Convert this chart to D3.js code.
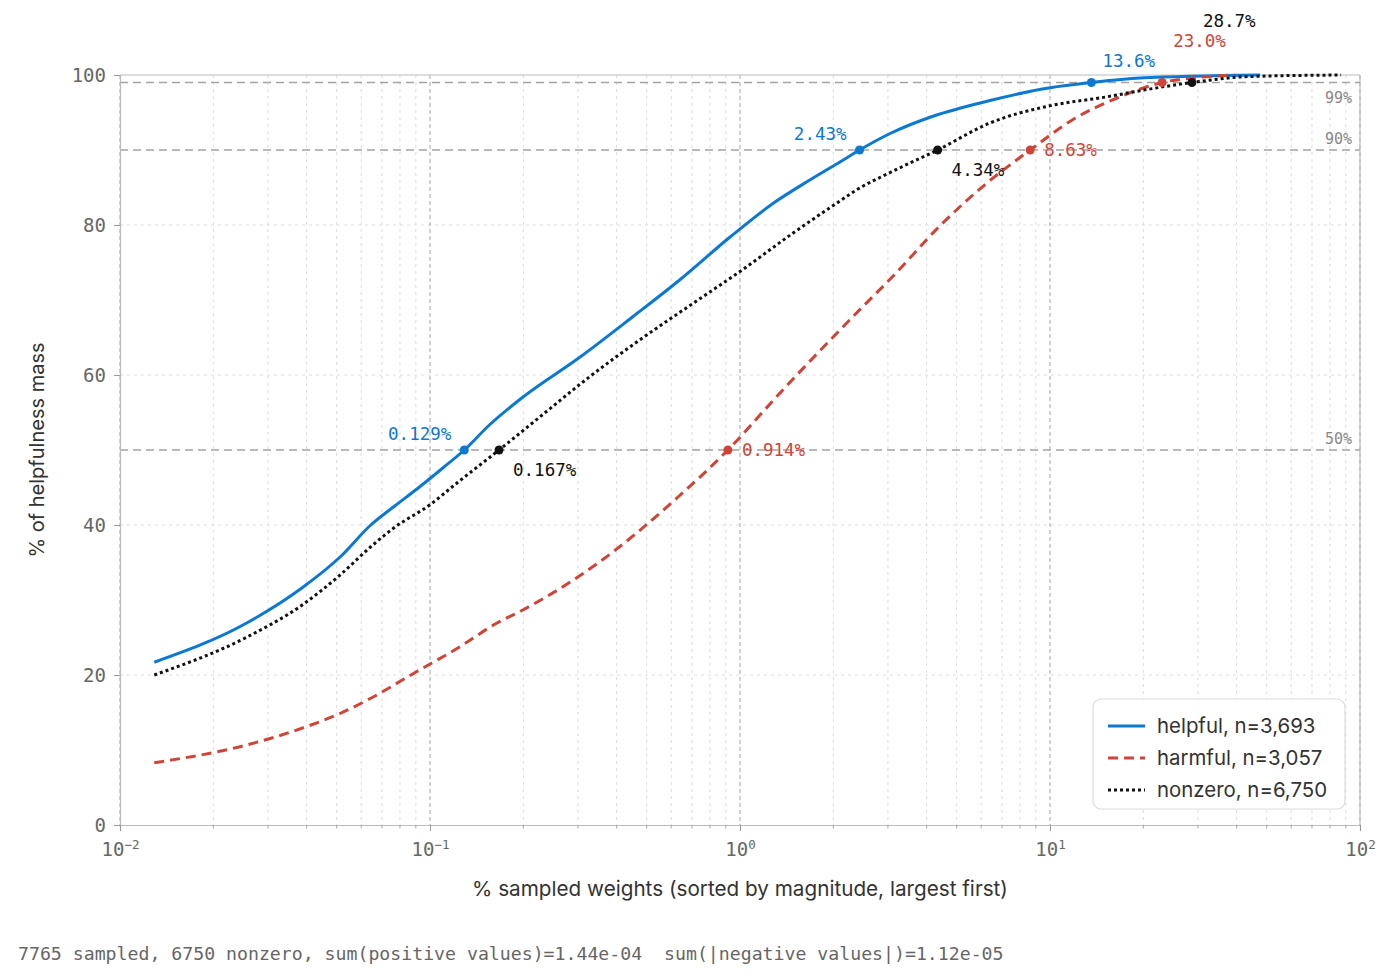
<!DOCTYPE html>
<html>
<head>
<meta charset="utf-8">
<script src="https://cdn.jsdelivr.net/npm/d3@7"></script>
<style>
  html, body { margin: 0; padding: 0; background: #fff; }
  svg { display: block; }
</style>
</head>
<body>
<svg id="chart" width="1386" height="978"></svg>
<script>
// ---------------- DATA ----------------
const helpful = [[0.0129,21.7],[0.0258,27.0],[0.0386,31.6],[0.0515,35.8],[0.0644,40.0],[0.0773,42.6],[0.0901,44.7],[0.110,47.6],[0.129,50.0],[0.156,53.4],[0.2,57.1],[0.305,62.4],[0.452,67.8],[0.64,72.7],[0.929,78.4],[1.28,82.9],[1.68,86.0],[2.10,88.4],[2.43,90.0],[3.05,92.2],[4.19,94.5],[6.4,96.6],[10,98.3],[13.6,99.0],[19.5,99.6],[47.6,100]];
const harmful = [[0.0129,8.3],[0.0258,10.7],[0.0386,12.9],[0.0515,14.9],[0.0644,16.9],[0.0901,20.4],[0.123,23.6],[0.164,26.9],[0.2,28.7],[0.353,35.1],[0.626,43.6],[0.914,50.0],[1.346,57.6],[2.38,68.3],[3.12,73.2],[4.42,79.9],[6.26,85.6],[8.63,90.0],[11.9,94.1],[16.4,96.9],[23.0,99.0],[30.5,99.7],[39.4,100]];
const nonzero = [[0.0129,20.0],[0.0258,25.1],[0.0386,29.3],[0.0515,33.4],[0.0644,37.1],[0.0764,39.6],[0.1,42.7],[0.123,45.7],[0.167,50.0],[0.226,54.4],[0.328,59.8],[0.476,64.7],[0.732,70.0],[1.0,73.8],[1.48,78.9],[2.10,83.2],[2.38,84.7],[3.05,87.0],[4.34,90.0],[6.4,93.6],[10,95.9],[15.3,97.1],[19.5,97.9],[28.7,99.0],[44.2,99.8],[86.9,100]];

const seriesNames = ["helpful", "harmful", "nonzero"];
const legendLabels = ["helpful, n=3,693", "harmful, n=3,057", "nonzero, n=6,750"];
const refLevels = [50, 90, 99];
const refLabels = ["50%", "90%", "99%"];
// crossing points: [series, x, level, label]
const crossings = [
  ["helpful", 0.129, 50, "0.129%"], ["helpful", 2.43, 90, "2.43%"], ["helpful", 13.6, 99, "13.6%"],
  ["harmful", 0.914, 50, "0.914%"], ["harmful", 8.63, 90, "8.63%"], ["harmful", 23.0, 99, "23.0%"],
  ["nonzero", 0.167, 50, "0.167%"], ["nonzero", 4.34, 90, "4.34%"], ["nonzero", 28.7, 99, "28.7%"]
];
const yTicks = [0, 20, 40, 60, 80, 100];
const xDecades = [0.01, 0.1, 1, 10, 100];
const xExponents = ["-2", "-1", "0", "1", "2"];
const xTitle = "% sampled weights (sorted by magnitude, largest first)";
const yTitle = "% of helpfulness mass";
const footer = "7765 sampled, 6750 nonzero, sum(positive values)=1.44e-04  sum(|negative values|)=1.12e-05";

// ---------------- STYLE ----------------
const colors = { helpful: "#0b78d4", harmful: "#d04437", nonzero: "#111111" };
const dashes = { helpful: null, harmful: "10,6", nonzero: "3,3" };
const dataBySeries = { helpful, harmful, nonzero };
const MONO = "'DejaVu Sans Mono', 'Liberation Mono', monospace";
const SANS = "Inter, 'Open Sans', sans-serif";

const svg = d3.select("#chart");
const L = 120, R = 1360, T = 75, B = 825;
const x = d3.scaleLog().domain([0.01, 100]).range([L, R]);
const y = d3.scaleLinear().domain([0, 100]).range([B, T]);

// minor ticks
const minorX = [];
for (let d = 0.01; d < 100; d *= 10) for (let k = 2; k <= 9; k++) minorX.push(+(d * k).toPrecision(3));

const g = svg.append("g");

// grid: horizontal
g.append("g").selectAll("line").data(yTicks.filter(v => v > 0 && v < 100)).join("line")
  .attr("x1", L).attr("x2", R).attr("y1", d => y(d)).attr("y2", d => y(d))
  .attr("stroke", "#dedede").attr("stroke-width", 1).attr("stroke-dasharray", "3,4");
// grid: vertical minor
g.append("g").selectAll("line").data(minorX).join("line")
  .attr("x1", d => x(d)).attr("x2", d => x(d)).attr("y1", T).attr("y2", B)
  .attr("stroke", "#dcdcdc").attr("stroke-width", 1).attr("stroke-dasharray", "3,4");
// grid: vertical major
g.append("g").selectAll("line").data(xDecades).join("line")
  .attr("x1", d => x(d)).attr("x2", d => x(d)).attr("y1", T).attr("y2", B)
  .attr("stroke", "#b5b5b5").attr("stroke-width", 1.2).attr("stroke-dasharray", "4,3");

// frame
g.append("line").attr("x1", L).attr("x2", R).attr("y1", T).attr("y2", T).attr("stroke", "#bbb").attr("stroke-width", 1.2);
g.append("line").attr("x1", R).attr("x2", R).attr("y1", T).attr("y2", B).attr("stroke", "#bbb").attr("stroke-width", 1.2);

// reference lines
g.append("g").selectAll("line").data(refLevels).join("line")
  .attr("x1", L).attr("x2", R).attr("y1", d => y(d)).attr("y2", d => y(d))
  .attr("stroke", "#a3a3a3").attr("stroke-width", 1.5).attr("stroke-dasharray", "8,5");
g.append("g").selectAll("text").data(refLevels).join("text")
  .attr("x", R - 8).attr("y", d => d === 99 ? y(d) + 20 : y(d) - 6)
  .attr("text-anchor", "end").attr("font-family", MONO).attr("font-size", 15)
  .attr("fill", "#888").text((d, i) => refLabels[i]);

// axes
const yAxis = g.append("g").attr("transform", `translate(${L},0)`)
  .call(d3.axisLeft(y).tickValues(yTicks).tickSize(6).tickPadding(8).tickFormat(d3.format("d")));
yAxis.select(".domain").attr("stroke", "#bbb").attr("stroke-width", 1.2);
yAxis.selectAll(".tick line").attr("stroke", "#999");
yAxis.selectAll("text").attr("font-family", MONO).attr("font-size", 19).attr("fill", "#666");

const xAxis = g.append("g").attr("transform", `translate(0,${B})`)
  .call(d3.axisBottom(x).tickValues(xDecades).tickSize(6).tickPadding(6).tickFormat(() => ""));
xAxis.select(".domain").attr("stroke", "#bbb").attr("stroke-width", 1.2);
xAxis.selectAll(".tick line").attr("stroke", "#999");
xAxis.selectAll(".tick text").each(function(d, i) {
  const t = d3.select(this).attr("font-family", MONO).attr("font-size", 19).attr("fill", "#666").attr("dy", "1.0em");
  t.append("tspan").text("10");
  t.append("tspan").attr("font-size", 12.5).attr("dy", "-0.55em").text(xExponents[i].replace("-", "\u2212"));
});
g.append("g").attr("transform", `translate(0,${B})`).selectAll("line").data(minorX).join("line")
  .attr("x1", d => x(d)).attr("x2", d => x(d)).attr("y1", 0).attr("y2", 3.5)
  .attr("stroke", "#aaa").attr("stroke-width", 1);

// titles
svg.append("text").attr("x", (L + R) / 2).attr("y", 896).attr("text-anchor", "middle")
  .attr("font-family", SANS).attr("font-size", 20.7).attr("fill", "#333").text(xTitle);
svg.append("text").attr("transform", `translate(44,${(T + B) / 2}) rotate(-90)`).attr("text-anchor", "middle")
  .attr("font-family", SANS).attr("font-size", 20).attr("fill", "#333").text(yTitle);

// curves
const line = d3.line().x(d => x(d[0])).y(d => y(d[1])).curve(d3.curveMonotoneX);
seriesNames.forEach(s => {
  g.append("path").datum(dataBySeries[s]).attr("d", line)
    .attr("fill", "none").attr("stroke", colors[s]).attr("stroke-width", 3)
    .attr("stroke-dasharray", dashes[s]).attr("stroke-linejoin", "round");
});

// crossing markers and labels
const topOffsets = { helpful: -16, harmful: -36, nonzero: -56 };
crossings.forEach(([s, xv, lv, lab]) => {
  const cx = x(xv), cy = y(lv);
  g.append("circle").attr("cx", cx).attr("cy", cy).attr("r", 4.5).attr("fill", colors[s]);
  let tx, ty, anchor;
  if (lv === 99) { tx = cx + 11; ty = cy + topOffsets[s]; anchor = "start"; }
  else if (s === "helpful") { tx = cx - 13; ty = cy - 10; anchor = "end"; }
  else if (s === "nonzero") { tx = cx + 14; ty = cy + 26; anchor = "start"; }
  else { tx = cx + 14; ty = cy + 6; anchor = "start"; }
  g.append("text").attr("x", tx).attr("y", ty).attr("text-anchor", anchor)
    .attr("font-family", MONO).attr("font-size", 17.5).attr("fill", colors[s]).text(lab);
});

// legend
const lg = svg.append("g");
lg.append("rect").attr("x", 1093).attr("y", 699).attr("width", 252).attr("height", 110).attr("rx", 8)
  .attr("fill", "#fff").attr("fill-opacity", 0.9).attr("stroke", "#dcdcdc").attr("stroke-width", 1.2);
seriesNames.forEach((s, i) => {
  const ly = 726 + i * 32;
  lg.append("line").attr("x1", 1108).attr("x2", 1145).attr("y1", ly).attr("y2", ly)
    .attr("stroke", colors[s]).attr("stroke-width", 3).attr("stroke-dasharray", dashes[s]);
  lg.append("text").attr("x", 1157).attr("y", ly + 7).attr("font-family", SANS).attr("font-size", 20.4)
    .attr("fill", "#333").text(legendLabels[i]);
});

// footer
svg.append("text").attr("x", 18).attr("y", 960).attr("font-family", MONO).attr("font-size", 18.2)
  .attr("fill", "#666").attr("xml:space", "preserve").style("white-space", "pre").text(footer);
</script>
</body>
</html>
